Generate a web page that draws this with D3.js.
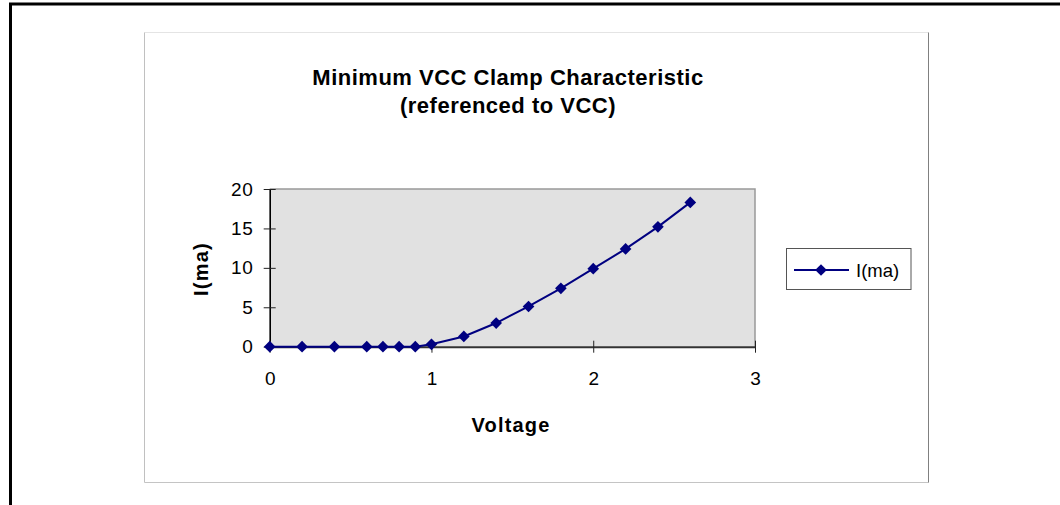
<!DOCTYPE html>
<html>
<head>
<meta charset="utf-8">
<script src="https://cdn.jsdelivr.net/npm/d3@7"></script>
<style>
  html, body { margin: 0; padding: 0; background: #fff; }
  svg { display: block; font-family: "Liberation Sans", Arial, sans-serif; }
</style>
</head>
<body>
<svg id="chart" width="1060" height="505"></svg>
<script>
// Clamp current versus supply voltage
const voltage = [0, 0.2, 0.4, 0.6, 0.7, 0.8, 0.9, 1.0, 1.2, 1.4, 1.6, 1.8, 2.0, 2.2, 2.4, 2.6];
const currentMa = [0, 0, 0, 0, 0, 0, 0, 0.3, 1.3, 3.0, 5.1, 7.4, 9.9, 12.4, 15.2, 18.3];
const xTicks = [0, 1, 2, 3];
const yTicks = [0, 5, 10, 15, 20];
const titleLines = ["Minimum VCC Clamp Characteristic", "(referenced to VCC)"];
const seriesName = "I(ma)";

const svg = d3.select("#chart");
const navy = "#000080";
const fontFam = "Liberation Sans, Arial, sans-serif";

// outer frame
svg.append("line").attr("x1", 10.5).attr("x2", 10.5).attr("y1", 3).attr("y2", 505)
  .attr("stroke", "#000").attr("stroke-width", 3);
svg.append("line").attr("x1", 9).attr("x2", 1060).attr("y1", 4).attr("y2", 4)
  .attr("stroke", "#000").attr("stroke-width", 3);

// chart area border
const ca = { l: 144.5, t: 32.5, r: 928.5, b: 482.5 };
svg.append("line").attr("x1", ca.l).attr("x2", ca.r).attr("y1", ca.t).attr("y2", ca.t).attr("stroke", "#e4e4e4");
svg.append("line").attr("x1", ca.l).attr("x2", ca.l).attr("y1", ca.t).attr("y2", ca.b).attr("stroke", "#c0c0c0");
svg.append("line").attr("x1", ca.l).attr("x2", ca.r).attr("y1", ca.b).attr("y2", ca.b).attr("stroke", "#c4c4c4");
svg.append("line").attr("x1", ca.r).attr("x2", ca.r).attr("y1", ca.t).attr("y2", ca.b).attr("stroke", "#808080");

// plot area
const pl = { l: 269.7, r: 755, t: 189, b: 346.7 };
const x = d3.scaleLinear().domain([0, 3]).range([pl.l, pl.r]);
const y = d3.scaleLinear().domain([0, 20]).range([pl.b, pl.t]);

svg.append("rect").attr("x", pl.l).attr("y", pl.t).attr("width", pl.r - pl.l).attr("height", pl.b - pl.t)
  .attr("fill", "#e1e1e1");
svg.append("path").attr("d", `M${pl.l},${pl.t}H${pl.r}V${pl.b}`)
  .attr("fill", "none").attr("stroke", "#999").attr("stroke-width", 1.5);

// axes
const yAxis = d3.axisLeft(y).tickValues(yTicks).tickFormat(d3.format("d"))
  .tickSizeInner(6).tickSizeOuter(0).tickPadding(10);
const gy = svg.append("g").attr("transform", `translate(${pl.l},0)`).call(yAxis);
gy.attr("font-size", null).attr("font-family", null);
gy.select(".domain").attr("stroke", "#000").attr("stroke-width", 1.6);
gy.selectAll(".tick line").attr("x2", 6).attr("x1", -6).attr("stroke", "#222");
gy.selectAll(".tick text").attr("font-size", 19).attr("letter-spacing", 0.8).attr("fill", "#000")
  .attr("font-family", fontFam);

const xAxis = d3.axisBottom(x).tickValues(xTicks).tickFormat(d3.format("d"))
  .tickSizeInner(6).tickSizeOuter(0).tickPadding(19);
const gx = svg.append("g").attr("transform", `translate(0,${pl.b})`).call(xAxis);
gx.attr("font-size", null).attr("font-family", null);
gx.select(".domain").attr("stroke", "#333").attr("stroke-width", 2);
gx.selectAll(".tick line").attr("y1", -6).attr("y2", 6).attr("stroke", "#222");
gx.selectAll(".tick text").attr("font-size", 19).attr("fill", "#000")
  .attr("font-family", fontFam);

// series line and diamond markers
const pts = voltage.map((v, i) => [v, currentMa[i]]);
svg.append("path").datum(pts)
  .attr("d", d3.line().x(d => x(d[0])).y(d => y(d[1])))
  .attr("fill", "none").attr("stroke", navy).attr("stroke-width", 2);

const diamond = d3.symbol().type(d3.symbolSquare).size(68);
svg.selectAll(".mk").data(pts).join("path")
  .attr("class", "mk")
  .attr("d", diamond)
  .attr("transform", d => `translate(${x(d[0])},${y(d[1])}) rotate(45)`)
  .attr("fill", navy);

// titles
const title = svg.append("text").attr("text-anchor", "middle").attr("font-weight", "bold")
  .attr("font-size", 22).attr("letter-spacing", 0.5);
titleLines.forEach((t, i) => {
  title.append("tspan").attr("x", 508).attr("y", 85 + i * 27.5).text(t);
});

svg.append("text").attr("x", 511).attr("y", 432).attr("text-anchor", "middle")
  .attr("font-weight", "bold").attr("font-size", 20).attr("letter-spacing", 1.2).text("Voltage");

svg.append("text").attr("transform", "translate(208,269) rotate(-90)").attr("text-anchor", "middle")
  .attr("font-weight", "bold").attr("font-size", 20).attr("letter-spacing", 1.2).text(seriesName);

// legend
const lg = svg.append("g");
lg.append("rect").attr("x", 786.5).attr("y", 248.5).attr("width", 124.5).attr("height", 41)
  .attr("fill", "#fff").attr("stroke", "#555").attr("stroke-width", 1);
lg.append("line").attr("x1", 794).attr("x2", 849).attr("y1", 270).attr("y2", 270)
  .attr("stroke", navy).attr("stroke-width", 2);
lg.append("path").attr("d", diamond).attr("transform", "translate(821,270) rotate(45)").attr("fill", navy);
lg.append("text").attr("x", 856).attr("y", 277).attr("font-size", 18.5).text(seriesName);
</script>
</body>
</html>
